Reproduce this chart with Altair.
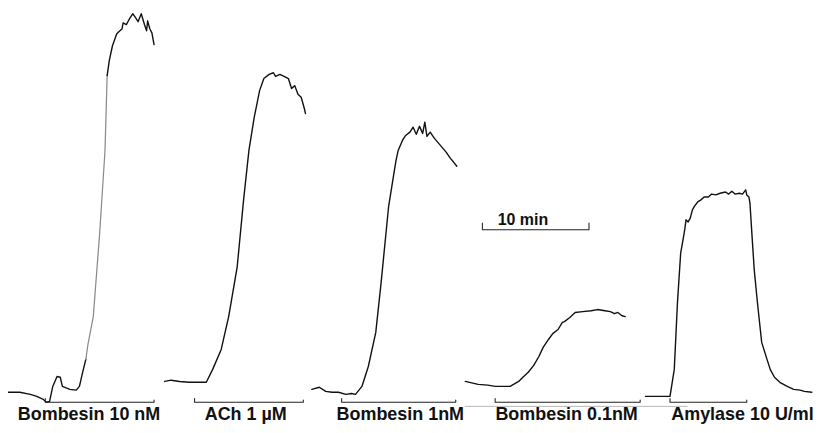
import altair as alt
import pandas as pd

# ---- values: time (min) and secretion response (arbitrary units, 0-100) ----
# Bombesin 10 nM
b10_base_t = [0.0, 1.1, 2.1, 2.7, 3.3, 3.6, 3.9, 4.2, 4.6, 4.9, 5.1, 5.8, 6.4, 6.7, 7.0, 7.3]
b10_base_r = [7.7, 7.7, 7.2, 6.7, 6.0, 5.3, 5.5, 9.1, 11.5, 11.3, 9.1, 8.4, 8.2, 9.1, 12.5, 15.6]
b10_rise_t = [7.3, 7.5, 8.0, 8.6, 9.1, 9.3]
b10_rise_r = [15.6, 19.2, 25.9, 46.0, 65.9, 83.9]
b10_top_t = [9.3, 9.5, 9.8, 10.2, 10.7, 10.8, 11.1, 11.4, 11.7, 11.9, 12.2, 12.5, 12.8, 13.0, 13.1, 13.3, 13.5, 13.7]
b10_top_r = [83.9, 87.5, 91.1, 94.0, 95.2, 96.6, 96.2, 97.6, 98.8, 98.1, 96.9, 98.8, 96.2, 94.7, 97.1, 95.2, 94.2, 91.4]
# ACh 1 uM
ach_t = [14.7, 15.3, 16.1, 17.0, 17.9, 18.6, 19.2, 20.0, 20.7, 21.5, 22.1, 22.6, 23.1, 23.6, 24.0, 24.5, 24.9,
         25.1, 25.5, 25.9, 26.3, 26.6, 26.9, 27.2, 27.5, 27.8, 27.9]
ach_r = [10.3, 10.6, 10.3, 10.1, 10.1, 10.1, 13.2, 18.0, 25.9, 37.9, 54.0, 65.9, 73.9, 80.3, 83.2, 84.2, 84.6,
         83.7, 84.2, 83.7, 83.2, 80.8, 81.5, 79.4, 78.7, 76.0, 74.8]
# Bombesin 1 nM
b1_t = [28.5, 29.2, 29.8, 30.4, 31.0, 31.7, 32.2, 32.6, 33.2, 33.8, 34.5, 35.0, 35.7, 36.2, 36.4, 36.6, 37.0,
        37.3, 37.7, 38.0, 38.3, 38.6, 38.9, 39.1, 39.3, 39.6, 40.0, 40.4, 40.7, 41.1, 41.5, 41.8, 42.1]
b1_r = [8.4, 8.9, 7.9, 7.7, 7.7, 7.2, 7.4, 7.2, 9.1, 13.9, 22.1, 34.1, 52.3, 60.4, 63.5, 65.9, 68.3,
        69.5, 70.3, 71.5, 69.8, 71.7, 70.0, 72.7, 69.3, 70.3, 68.8, 67.6, 66.7, 65.5, 64.0, 63.1, 62.1]
# Bombesin 0.1 nM
b01_t = [42.9, 44.1, 45.0, 45.7, 46.5, 47.1, 47.9, 48.3, 48.8, 49.3, 49.8, 50.2, 50.7, 51.1, 51.6, 52.0, 52.2,
         52.7, 53.2, 53.9, 54.7, 55.3, 56.0, 56.5, 56.9, 57.2, 57.6, 57.9]
b01_r = [10.3, 9.6, 9.4, 9.1, 9.1, 9.1, 10.3, 11.3, 12.5, 14.1, 16.3, 18.5, 20.4, 21.8, 22.8, 24.5, 24.7,
         25.7, 26.9, 27.1, 27.3, 27.6, 27.3, 27.1, 26.6, 26.9, 26.1, 25.9]
# Amylase 10 U/ml
amy_t = [59.8, 60.9, 62.1, 62.5, 62.8, 63.1, 63.4, 63.5, 63.6, 63.8, 64.0, 64.2, 64.4, 64.7, 65.0, 65.3, 65.7,
         66.0, 66.4, 66.8, 67.3, 67.6, 67.9, 68.2, 68.6, 68.9, 69.2, 69.3, 69.5, 69.6, 69.8, 70.0, 70.3, 70.7,
         71.2, 71.5, 71.9, 72.4, 73.1, 73.7, 74.3, 74.7, 75.4]
amy_r = [6.7, 6.7, 6.7, 13.2, 29.3, 41.2, 45.6, 47.2, 49.2, 48.7, 49.6, 51.6, 52.5, 53.5, 54.0, 54.7, 54.7,
         55.4, 55.2, 55.6, 55.9, 55.4, 56.1, 55.4, 55.6, 55.4, 56.4, 55.2, 54.7, 53.2, 45.1, 37.2, 29.3, 19.7,
         15.6, 13.2, 11.3, 10.1, 9.1, 8.4, 8.2, 7.9, 7.7]

# stimulus bars (start, end in min)
stim_start = [3.5, 17.5, 31.3, 45.7, 62.1]
stim_end = [13.7, 27.7, 42.0, 59.3, 69.3]
stim_level = 5.3
labels = ["Bombesin 10 nM", "ACh 1 \u00b5M", "Bombesin 1nM", "Bombesin 0.1nM", "Amylase 10 U/ml"]
label_t = [7.6, 22.3, 36.8, 52.4, 68.9]
label_r = 1.1

# scale bar: 10 min
scale_start, scale_len, scale_level = 44.5, 10.0, 46.8

# ---- build tables ----
rows = []
def add(name, tone, ts, rs):
    for i, (t, r) in enumerate(zip(ts, rs)):
        rows.append({"t": t, "r": r, "trace": name, "tone": tone, "i": i})

add("b10_base", "dark", b10_base_t, b10_base_r)
add("b10_rise", "faint", b10_rise_t, b10_rise_r)
add("b10_top", "dark", b10_top_t, b10_top_r)
add("ach", "dark", ach_t, ach_r)
add("b1", "dark", b1_t, b1_r)
add("b01", "dark", b01_t, b01_r)
add("amy", "dark", amy_t, amy_r)
for k, (s, e) in enumerate(zip(stim_start, stim_end)):
    add(f"stim{k}", "bar", [s, s, e, e], [stim_level + 0.9, stim_level, stim_level, stim_level + 0.5])
add("faintbar", "ghost", [42.9, 63.7], [4.3, 4.3])
add("scale", "bar", [scale_start, scale_start, scale_start + scale_len, scale_start + scale_len],
    [scale_level + 1.6, scale_level, scale_level, scale_level + 1.6])

df = pd.DataFrame(rows)
lab = pd.DataFrame({"t": label_t, "r": [label_r] * 5, "text": labels})
sc = pd.DataFrame({"t": [48.3], "r": [48.0], "text": ["10 min"]})

W, H = 810, 417
xs = alt.Scale(domain=[0, W / 10.7], nice=False, zero=False)
ys = alt.Scale(domain=[0, 100], nice=False, zero=False)

lines = alt.Chart(df).mark_line(strokeJoin="round", strokeCap="round").encode(
    x=alt.X("t:Q", scale=xs, axis=None),
    y=alt.Y("r:Q", scale=ys, axis=None),
    detail="trace:N",
    order="i:Q",
    color=alt.Color("tone:N", scale=alt.Scale(domain=["dark", "faint", "bar", "ghost"],
                                               range=["#111111", "#8a8a8a", "#222222", "#b0b0b0"]), legend=None),
    strokeWidth=alt.StrokeWidth("tone:N", scale=alt.Scale(domain=["dark", "faint", "bar", "ghost"],
                                                          range=[1.4, 0.9, 1.3, 0.8]), legend=None),
)

label_text = alt.Chart(lab).mark_text(font="Liberation Sans", fontWeight="bold", fontSize=18,
                                      baseline="alphabetic", align="center", color="#111").encode(
    x=alt.X("t:Q", scale=xs, axis=None), y=alt.Y("r:Q", scale=ys, axis=None), text="text:N")

scale_text = alt.Chart(sc).mark_text(font="Liberation Sans", fontWeight="bold", fontSize=16,
                                     baseline="alphabetic", align="center", color="#111").encode(
    x=alt.X("t:Q", scale=xs, axis=None), y=alt.Y("r:Q", scale=ys, axis=None), text="text:N")

chart = alt.layer(lines, label_text, scale_text).properties(
    width=W, height=H, padding=0, autosize=alt.AutoSizeParams(type="none"), background="white"
).configure_view(stroke=None)

chart.save("out.html", embed_options={"renderer": "svg", "actions": False})
